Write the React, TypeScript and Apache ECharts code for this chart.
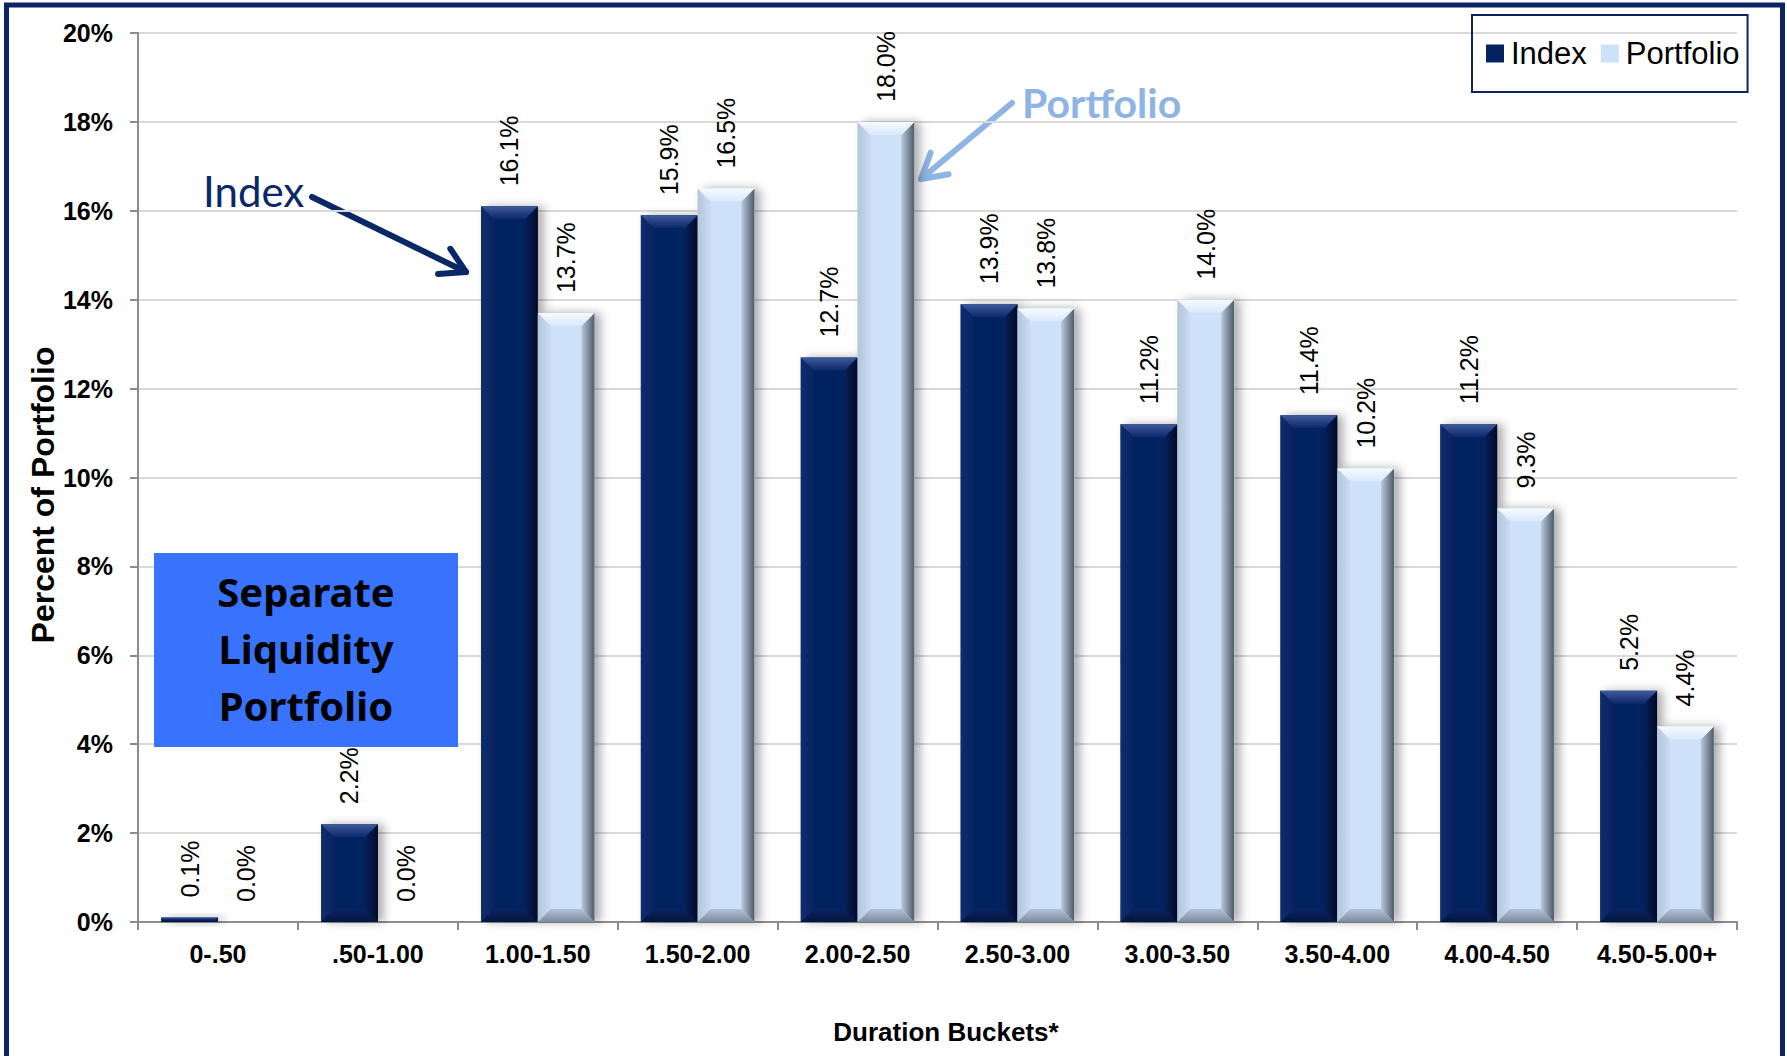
import React, { useEffect, useRef } from "react";
import * as echarts from "echarts";

// Duration bucket distribution: index vs. portfolio (percent of portfolio)
const categories = [
  "0-.50",
  ".50-1.00",
  "1.00-1.50",
  "1.50-2.00",
  "2.00-2.50",
  "2.50-3.00",
  "3.00-3.50",
  "3.50-4.00",
  "4.00-4.50",
  "4.50-5.00+",
];
const indexValues = [0.1, 2.2, 16.1, 15.9, 12.7, 13.9, 11.2, 11.4, 11.2, 5.2];
const portfolioValues = [0.0, 0.0, 13.7, 16.5, 18.0, 13.8, 14.0, 10.2, 9.3, 4.4];
const seriesNames = ["Index", "Portfolio"];
const yMin = 0;
const yMax = 20;
const yStep = 2;

const CATEGORY_GAP = 0.29;
const NAVY = "#0a2766";
const LIGHT_ARROW = "#8db4e2";
const ARIAL = "'Liberation Sans', Arial, sans-serif";

type Palette = {
  base: string;
  top: [string, string];
  right: [string, string];
  bottom: [string, string];
  left: [string, string];
};

const indexPalette: Palette = {
  base: "#06215f",
  top: ["#3d5a9a", "#0c286b"],
  right: ["#06205c", "#000a26"],
  bottom: ["#0a2462", "#031440"],
  left: ["#0f2c6e", "#08235f"],
};

const portfolioPalette: Palette = {
  base: "#cde1f9",
  top: ["#f6faff", "#d9e8fb"],
  right: ["#b8c9dd", "#4d5b6b"],
  bottom: ["#b1c2d6", "#7c8da2"],
  left: ["#b4c5da", "#c9dcf3"],
};

const lg = (x: number, y: number, x2: number, y2: number, c: [string, string]) =>
  new echarts.graphic.LinearGradient(x, y, x2, y2, [
    { offset: 0, color: c[0] },
    { offset: 1, color: c[1] },
  ]);

// Bevelled faces drawn over each bar, positioned from the same category/value scale
function bevelRenderer(slot: 0 | 1, pal: Palette) {
  return (_params: any, api: any) => {
    const cat = api.value(0);
    const v = api.value(1);
    const basePt = api.coord([cat, 0]);
    const topPt = api.coord([cat, v]);
    const catW = api.size([1, 0])[0];
    const barW = (catW * (1 - CATEGORY_GAP)) / 2;
    const x0 = slot === 0 ? basePt[0] - barW : basePt[0];
    const x1 = x0 + barW;
    const y0 = topPt[1];
    const y1 = basePt[1];
    const h = y1 - y0;
    if (h <= 0.5) return { type: "group", children: [] };
    const b = Math.min(13, h / 2, barW / 2);
    return {
      type: "group",
      children: [
        {
          type: "polygon",
          shape: { points: [[x0, y0], [x0 + b, y0 + b], [x0 + b, y1 - b], [x0, y1]] },
          style: { fill: lg(0, 0, 1, 0, pal.left) },
        },
        {
          type: "polygon",
          shape: { points: [[x0, y1], [x1, y1], [x1 - b, y1 - b], [x0 + b, y1 - b]] },
          style: { fill: lg(0, 0, 0, 1, pal.bottom) },
        },
        {
          type: "polygon",
          shape: { points: [[x1, y0], [x1, y1], [x1 - b, y1 - b], [x1 - b, y0 + b]] },
          style: { fill: lg(0, 0, 1, 0, pal.right) },
        },
        {
          type: "polygon",
          shape: { points: [[x0, y0], [x1, y0], [x1 - b, y0 + b], [x0 + b, y0 + b]] },
          style: { fill: lg(0, 0, 0, 1, pal.top) },
        },
      ],
    };
  };
}

// Annotation arrow: straight shaft with an open chevron head
function arrow(x1: number, y1: number, x2: number, y2: number, color: string, width: number) {
  const ang = Math.atan2(y2 - y1, x2 - x1);
  const head = 28;
  const spread = (30 * Math.PI) / 180;
  const w1 = [x2 - head * Math.cos(ang - spread), y2 - head * Math.sin(ang - spread)];
  const w2 = [x2 - head * Math.cos(ang + spread), y2 - head * Math.sin(ang + spread)];
  const style = { stroke: color, lineWidth: width, lineCap: "round", lineJoin: "round", fill: null };
  return [
    { type: "line", shape: { x1, y1, x2, y2 }, style },
    { type: "polyline", shape: { points: [w1, [x2, y2], w2] }, style },
  ];
}

const valueLabel = {
  show: true,
  position: "top",
  rotate: 90,
  align: "left",
  verticalAlign: "middle",
  distance: 20,
  color: "#000",
  fontFamily: ARIAL,
  fontSize: 25,
  formatter: (p: any) => `${Number(p.value).toFixed(1)}%`,
};

const barShadow = {
  shadowBlur: 10,
  shadowOffsetX: 6,
  shadowOffsetY: 0,
  shadowColor: "rgba(0,0,0,0.32)",
};

export default function App() {
  const ref = useRef<HTMLDivElement>(null);

  useEffect(() => {
    if (!ref.current) return;
    const chart = echarts.init(ref.current, undefined, { renderer: "svg" });

    const option: any = {
      animation: false,
      backgroundColor: "#ffffff",
      grid: { left: 138, right: 50, top: 33, bottom: 134, containLabel: false },
      legend: {
        data: seriesNames,
        left: 1472,
        top: 15,
        orient: "horizontal",
        padding: [23, 8, 23, 14],
        itemGap: 14,
        itemWidth: 18,
        itemHeight: 18,
        icon: "rect",
        borderColor: "#0a2466",
        borderWidth: 2,
        textStyle: { fontFamily: ARIAL, fontSize: 31, color: "#000", padding: [0, 0, 0, 2] },
      },
      xAxis: {
        type: "category",
        data: categories,
        boundaryGap: true,
        axisLine: { lineStyle: { color: "#8c8c8c", width: 2 } },
        axisTick: { show: true, length: 8, interval: 0, lineStyle: { color: "#8c8c8c", width: 2 } },
        axisLabel: {
          interval: 0,
          margin: 19,
          color: "#000",
          fontFamily: ARIAL,
          fontWeight: "bold",
          fontSize: 25,
        },
        splitLine: { show: false },
      },
      yAxis: {
        type: "value",
        min: yMin,
        max: yMax,
        interval: yStep,
        axisLine: { show: true, lineStyle: { color: "#8c8c8c", width: 2 } },
        axisTick: { show: true, length: 8, lineStyle: { color: "#8c8c8c", width: 2 } },
        axisLabel: {
          margin: 25,
          color: "#000",
          fontFamily: ARIAL,
          fontWeight: "bold",
          fontSize: 25,
          formatter: "{value}%",
        },
        splitLine: { lineStyle: { color: "#d9d9d9", width: 2 } },
      },
      series: [
        {
          name: seriesNames[0],
          type: "bar",
          data: indexValues,
          barGap: "0%",
          barCategoryGap: `${CATEGORY_GAP * 100}%`,
          itemStyle: { color: indexPalette.base, ...barShadow },
          label: valueLabel,
          z: 2,
        },
        {
          name: seriesNames[1],
          type: "bar",
          data: portfolioValues,
          barGap: "0%",
          barCategoryGap: `${CATEGORY_GAP * 100}%`,
          itemStyle: { color: portfolioPalette.base, ...barShadow },
          label: valueLabel,
          z: 2,
        },
        {
          name: "Index faces",
          type: "custom",
          silent: true,
          z: 3,
          data: indexValues.map((v, i) => [i, v]),
          encode: { x: 0, y: 1 },
          renderItem: bevelRenderer(0, indexPalette),
        },
        {
          name: "Portfolio faces",
          type: "custom",
          silent: true,
          z: 3,
          data: portfolioValues.map((v, i) => [i, v]),
          encode: { x: 0, y: 1 },
          renderItem: bevelRenderer(1, portfolioPalette),
        },
      ],
      graphic: [
        // outer frame
        {
          type: "rect",
          z: 100,
          silent: true,
          shape: { x: 6.5, y: 5, width: 1776, height: 1100 },
          style: { fill: null, stroke: "#0a2466", lineWidth: 5 },
        },
        // axis titles
        {
          type: "text",
          z: 50,
          x: 43,
          y: 495,
          rotation: Math.PI / 2,
          style: {
            text: "Percent of Portfolio",
            font: `bold 32px ${ARIAL}`,
            fill: "#000",
            align: "center",
            verticalAlign: "middle",
          },
        },
        {
          type: "text",
          z: 50,
          x: 946,
          y: 1032,
          style: {
            text: "Duration Buckets*",
            font: `bold 26px ${ARIAL}`,
            fill: "#000",
            align: "center",
            verticalAlign: "middle",
          },
        },
        // call-out box
        {
          type: "rect",
          z: 40,
          shape: { x: 154, y: 553, width: 304, height: 194 },
          style: { fill: "#3873fe" },
        },
        {
          type: "text",
          z: 41,
          x: 306,
          y: 648,
          style: {
            text: "Separate\nLiquidity\nPortfolio",
            font: `bold 40px 'Noto Sans', sans-serif`,
            lineHeight: 57,
            fill: "#000",
            align: "center",
            verticalAlign: "middle",
          },
        },
        // series annotations
        {
          type: "text",
          z: 41,
          x: 203,
          y: 191,
          style: {
            text: "Index",
            font: `42px Lato, 'Open Sans', sans-serif`,
            fill: NAVY,
            align: "left",
            verticalAlign: "middle",
          },
        },
        ...arrow(312, 197, 466, 272, NAVY, 6),
        {
          type: "text",
          z: 41,
          x: 1022,
          y: 102,
          style: {
            text: "Portfolio",
            font: `bold 41px Lato, 'Open Sans', sans-serif`,
            fill: LIGHT_ARROW,
            align: "left",
            verticalAlign: "middle",
          },
        },
        ...arrow(1012, 103, 921, 179, LIGHT_ARROW, 6),
      ],
    };

    chart.setOption(option);
    return () => chart.dispose();
  }, []);

  return (
    <div
      ref={ref}
      style={{ position: "fixed", left: 0, top: 0, width: 1787, height: 1056, background: "#fff" }}
    />
  );
}
